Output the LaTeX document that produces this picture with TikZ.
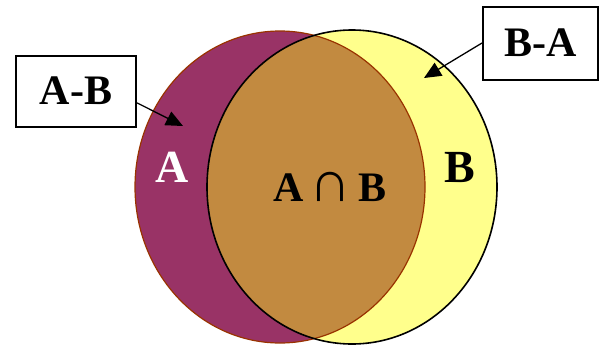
\documentclass[tikz,border=0pt]{standalone}
\usepackage{fontspec}
\setmainfont{Liberation Serif}
\usetikzlibrary{arrows.meta}
\definecolor{apurple}{HTML}{993366}
\definecolor{abrown}{HTML}{993300}
\definecolor{byellow}{HTML}{FFFF8C}
\definecolor{inter}{HTML}{C28A40}
\begin{document}
\begin{tikzpicture}[x=1pt,y=-1pt,
  lbox/.style={draw=black,line width=2pt,fill=white,minimum width=120pt,minimum height=71pt,inner sep=0pt,font=\fontsize{42}{42}\selectfont\bfseries},
  lbl/.style={font=\fontsize{46}{46}\selectfont\bfseries,inner sep=0pt,anchor=base},
  pointer/.style={line width=1.3pt,-{Triangle[length=17pt,width=15pt]}}]
\useasboundingbox (0,0) rectangle (600,346);
% circles
\fill[apurple] (280,187) ellipse [x radius=145,y radius=156];
\fill[byellow] (352,187) ellipse [x radius=145,y radius=157];
\begin{scope}
  \clip (280,187) ellipse [x radius=145,y radius=156];
  \fill[inter] (352,187) ellipse [x radius=145,y radius=157];
\end{scope}
\draw[abrown,line width=1.2pt] (280,187) ellipse [x radius=145,y radius=156];
\draw[black,line width=1.6pt] (352,187) ellipse [x radius=145,y radius=157];
% labels
\node[lbl,text=white] (la) at (172,182) {A};
\node[lbl] (lb) at (459.5,182) {B};
\node[inner sep=0pt,anchor=base,font=\fontsize{42}{42}\selectfont\bfseries] (lab) at (330,201) {A\hspace{6pt}{\mdseries\fontsize{58}{58}\selectfont ∩}\hspace{7pt}B};
% boxes
\node[lbox] (ab) at (76,91) {A-B};
\node[lbox,minimum width=115pt,minimum height=73pt] (ba) at (540.5,43) {B-A};
\coordinate (abtip) at (183,126);
\coordinate (batip) at (424,78);
\draw[pointer] (ab.-11) -- (abtip);
\draw[pointer] (ba.west) -- (batip);
\end{tikzpicture}
\end{document}
